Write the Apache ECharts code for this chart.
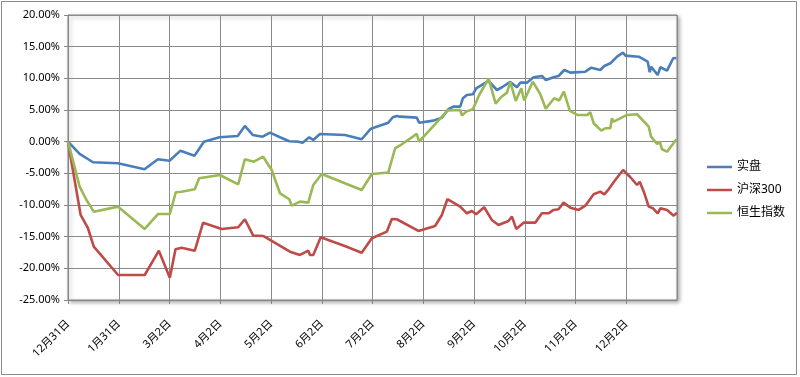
<!DOCTYPE html>
<html>
<head>
<meta charset="utf-8">
<script src="https://cdn.jsdelivr.net/npm/echarts@6/dist/echarts.min.js"></script>
<style>
  html, body { margin: 0; padding: 0; background: #fff; }
  #chart { width: 800px; height: 377px; }
</style>
</head>
<body>
<div id="chart"></div>
<script>
// x = days after 12月31日, y = cumulative return in %
var tickLabels = ['12月31日', '1月31日', '3月2日', '4月2日', '5月2日', '6月2日',
  '7月2日', '8月2日', '9月2日', '10月2日', '11月2日', '12月2日'];
var seriesNames = ['实盘', '沪深300', '恒生指数'];

var shipanDays = [0, 7, 15, 30, 46, 54, 61, 67.6, 76, 81.7, 91, 102, 106.3, 111, 117, 121.4, 127.4, 133, 138.4, 141, 145, 147.4,
  151.4, 166.5, 176.5, 182, 192.5, 195.2, 197.6, 199.6, 209.6, 211, 219.6, 224.7, 228.6, 231.6, 235.7, 237.3, 239.7,
  243.3, 245.3, 249.3, 252.7, 257.8, 260.8, 265.8, 269.8, 271.8, 275.8, 279.8, 284.8, 287.2, 291.8, 294.8, 298.3,
  301.9, 310.9, 314.5, 319.9, 322.3, 326, 330, 333.6, 335, 343, 348.4, 349.6, 350.4, 354.4, 356, 360, 363.7, 365.6];
var shipanPct = [0, -1.94, -3.25, -3.41, -4.36, -2.78, -3.0, -1.42, -2.21, 0.0, 0.69, 0.9, 2.48, 1.06, 0.79, 1.42, 0.69, 0.06, 0.0, -0.16, 0.69, 0.27,
  1.22, 1.06, 0.38, 2.05, 3.0, 3.85, 4.06, 3.95, 3.79, 3.0, 3.32, 3.79, 5.12, 5.53, 5.53, 6.85, 7.37,
  7.48, 8.43, 9.06, 9.58, 8.16, 8.59, 9.43, 8.59, 9.32, 9.32, 10.17, 10.37, 9.74, 10.17, 10.37, 11.32,
  10.9, 11.05, 11.68, 11.32, 11.95, 12.38, 13.42, 14.05, 13.58, 13.42, 12.63, 10.96, 11.84, 10.53, 11.75, 11.21, 13.17, 13.22];

var hs300Days = [0, 7.6, 12, 15.5, 30.1, 46.1, 54.6, 61.2, 64.6, 68.2, 76.2, 81.2, 92.3, 102.3, 106.3, 111.3, 117.3, 133.4, 139.4,
  144.4, 145.4, 147.4, 151.9, 167.5, 176.5, 182.6, 191.6, 194.6, 197.6, 210.6, 220.6, 224.7, 228, 235.7, 239.7, 242.7,
  245.3, 250.1, 254.7, 258.7, 264.7, 266.8, 269.4, 273.8, 280.8, 284.8, 288.8, 291.8, 294.8, 297.8, 301.9, 306.9, 310.9,
  315.9, 319.9, 322.3, 324.9, 328.9, 333.6, 338, 342, 343.6, 346.4, 349, 351.6, 354.4, 356, 360, 364, 366];
var hs300Pct = [0, -11.57, -13.67, -16.58, -21.05, -21.05, -17.21, -21.47, -16.99, -16.74, -17.21, -12.79, -13.78, -13.52, -12.25, -14.84, -14.89, -17.37, -17.89,
  -17.21, -17.89, -17.89, -15.1, -16.58, -17.53, -15.25, -14.21, -12.21, -12.25, -14.1, -13.31, -11.57, -9.09, -10.26, -11.31, -10.94,
  -11.46, -10.36, -12.36, -13.15, -12.52, -11.84, -13.78, -12.79, -12.79, -11.31, -11.31, -10.78, -10.67, -9.63, -10.42, -10.78, -10.11,
  -8.31, -7.89, -8.31, -7.52, -6.05, -4.47, -5.62, -6.84, -6.32, -8.15, -10.26, -10.52, -11.31, -10.52, -10.78, -11.68, -11.21];

var hsiDays = [0, 7, 11.1, 15.5, 30.1, 46.1, 54.2, 61.2, 64.8, 68.2, 76.2, 78.8, 91.3, 102.3, 106.3, 111.7, 117.3, 122.4, 127.4, 133,
  134.4, 139.4, 144.4, 147.4, 152.5, 176.5, 182.6, 192.5, 196.6, 199.6, 209.6, 211, 228.2, 235.7, 236.7, 239.3, 243.3, 247.1,
  252.8, 257, 260.2, 263.8, 265.8, 269.1, 272.4, 274.2, 279.3, 283.8, 287.1, 292.2, 295.2, 298, 301.6, 306.1, 312.1, 313.9,
  315.9, 320.5, 322.9, 325.9, 326.9, 327.9, 336, 342, 349, 350.4, 354, 355.6, 357, 360, 363.1, 365.7];
var hsiPct = [0, -7.11, -9.21, -11.05, -10.26, -13.78, -11.42, -11.42, -7.99, -7.9, -7.52, -5.78, -5.26, -6.73, -2.78, -3.16, -2.37, -4.47, -8.15, -9.09,
  -10.11, -9.47, -9.63, -6.84, -5.1, -7.63, -5.1, -4.86, -1.04, -0.6, 1.22, 0.0, 4.94, 5.0, 4.14, 4.74, 5.12, 7.37,
  9.95, 6.0, 7.01, 7.74, 9.43, 6.43, 8.43, 6.51, 9.47, 7.53, 5.21, 6.85, 6.51, 7.9, 4.85, 4.22, 4.22, 4.64,
  2.91, 1.74, 2.12, 2.12, 3.69, 3.16, 4.22, 4.33, 2.37, 0.79, -0.36, 0.0, -1.2, -1.58, -0.52, 0.38];

var colors = ['#4A7EBB', '#BE4B48', '#98B954'];
var font = "'Noto Sans', 'Noto Sans CJK SC', sans-serif";
var tickStep = 30.5;

function pairs(xs, ys) {
  return xs.map(function (x, i) { return [x, ys[i]]; });
}

var myChart = echarts.init(document.getElementById('chart'));

var option = {
  animation: false,
  color: colors,
  graphic: [{
    type: 'rect',
    shape: { x: 1.5, y: 1.5, width: 795, height: 373 },
    style: { fill: 'none', stroke: '#8a8a8a', lineWidth: 1 },
    silent: true
  }],
  grid: {
    left: 68, right: 123, top: 15, bottom: 77,
    show: true,
    backgroundColor: '#fff',
    borderColor: '#868686',
    borderWidth: 1,
    shadowColor: 'rgba(0,0,0,0.35)',
    shadowBlur: 4,
    shadowOffsetX: 2,
    shadowOffsetY: 2
  },
  legend: {
    orient: 'vertical',
    left: 702,
    top: 156,
    icon: 'rect',
    itemWidth: 25,
    itemHeight: 2.5,
    itemGap: 11,
    textStyle: { fontFamily: font, fontSize: 12, color: '#000' },
    data: seriesNames
  },
  xAxis: {
    type: 'value',
    min: 0,
    max: 366,
    interval: tickStep,
    axisLine: { show: true, onZero: false, lineStyle: { color: '#868686' } },
    axisTick: { show: true, length: 4, lineStyle: { color: '#868686' } },
    splitLine: { show: true, lineStyle: { color: '#8a8a8a', width: 1 } },
    axisLabel: {
      rotate: 45,
      margin: 22,
      fontFamily: font,
      fontSize: 11,
      color: '#000',
      showMaxLabel: false,
      formatter: function (v) { return tickLabels[Math.round(v / tickStep)] || ''; }
    }
  },
  yAxis: {
    type: 'value',
    min: -25,
    max: 20,
    interval: 5,
    axisLine: { show: true, onZero: false, lineStyle: { color: '#868686' } },
    axisTick: { show: true, length: 4, lineStyle: { color: '#868686' } },
    splitLine: { show: true, lineStyle: { color: '#8a8a8a', width: 1 } },
    axisLabel: {
      margin: 8,
      fontFamily: font,
      fontSize: 11,
      color: '#000',
      formatter: function (v) { return v.toFixed(2) + '%'; }
    }
  },
  series: [
    { name: seriesNames[0], type: 'line', showSymbol: false, lineStyle: { width: 2.6 }, data: pairs(shipanDays, shipanPct) },
    { name: seriesNames[1], type: 'line', showSymbol: false, lineStyle: { width: 2.6 }, data: pairs(hs300Days, hs300Pct) },
    { name: seriesNames[2], type: 'line', showSymbol: false, lineStyle: { width: 2.6 }, data: pairs(hsiDays, hsiPct) }
  ]
};

myChart.setOption(option);
</script>
</body>
</html>
